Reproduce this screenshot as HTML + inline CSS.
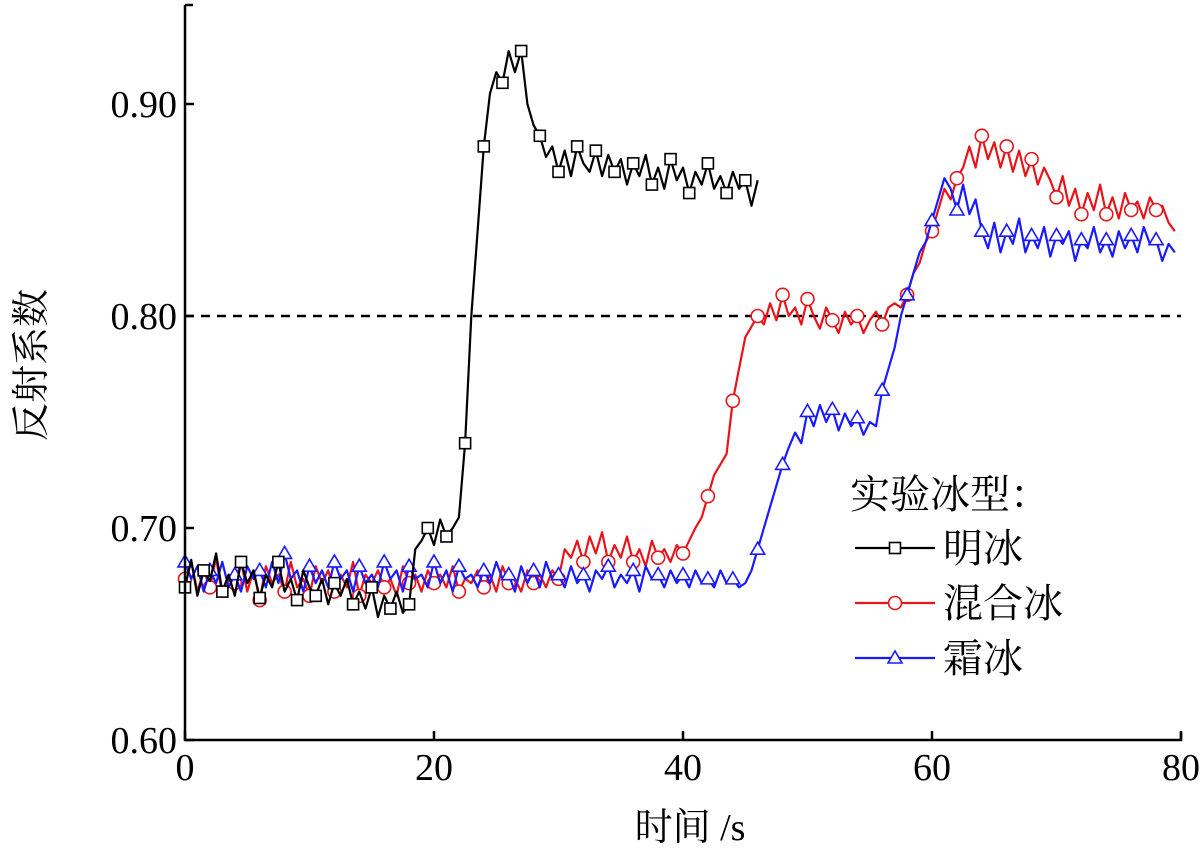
<!DOCTYPE html>
<html><head><meta charset="utf-8"><style>
body{margin:0;background:#fff}
svg{display:block}
text{font-family:"Liberation Serif","Noto Serif CJK SC","Noto Sans CJK SC",serif;fill:#000}
</style></head><body>
<svg id="chart" width="1200" height="852" viewBox="0 0 1200 852" xmlns="http://www.w3.org/2000/svg">
<g id="plot"></g>
</svg>
<script>
const xTicks=[0,20,40,60,80];
const yTicks=[0.60,0.70,0.80,0.90];
const yTickLabels=["0.60","0.70","0.80","0.90"];
const refLine=0.80;
const dt=0.5;
const clearIce=[0.672,0.685,0.668,0.680,0.675,0.688,0.670,0.678,0.668,0.684,0.674,0.680,0.667,0.678,0.672,0.684,0.670,0.676,0.666,0.680,0.672,0.668,0.676,0.664,0.674,0.668,0.676,0.664,0.670,0.662,0.672,0.658,0.668,0.662,0.670,0.660,0.664,0.690,0.694,0.700,0.692,0.704,0.696,0.700,0.705,0.740,0.800,0.840,0.880,0.905,0.915,0.910,0.925,0.915,0.925,0.900,0.890,0.885,0.875,0.880,0.868,0.878,0.866,0.880,0.872,0.868,0.878,0.866,0.876,0.868,0.874,0.862,0.872,0.866,0.876,0.862,0.870,0.860,0.874,0.864,0.870,0.858,0.868,0.862,0.872,0.860,0.866,0.858,0.868,0.860,0.864,0.852,0.864];
const mixedIce=[0.676,0.684,0.670,0.680,0.672,0.686,0.668,0.678,0.674,0.684,0.670,0.680,0.666,0.682,0.674,0.678,0.670,0.684,0.672,0.676,0.668,0.682,0.674,0.680,0.670,0.678,0.672,0.684,0.668,0.678,0.674,
0.680,0.672,0.676,0.668,0.682,0.674,0.678,0.670,0.680,0.674,0.678,0.672,0.682,0.670,0.676,0.674,0.680,0.672,0.678,0.670,0.682,0.674,0.676,0.670,0.680,0.674,0.678,0.672,0.680,0.676,0.690,
0.686,0.694,0.684,0.696,0.688,0.698,0.684,0.692,0.686,0.696,0.684,0.690,0.682,0.694,0.686,0.690,0.684,0.692,0.688,0.694,
0.700,0.705,0.715,0.725,0.730,0.735,0.760,0.775,0.790,0.795,
0.800,0.796,0.806,0.798,0.810,0.800,0.804,0.796,0.808,0.800,0.794,0.804,0.798,0.792,0.802,0.796,0.800,0.792,0.798,0.802,0.796,0.804,0.806,0.804,
0.810,0.820,0.825,0.835,0.840,0.850,0.860,0.855,0.865,0.870,
0.880,0.870,0.885,0.874,0.882,0.870,0.880,0.868,0.878,0.866,0.874,0.862,0.870,0.864,
0.856,0.866,0.852,0.860,0.848,0.858,0.850,0.862,0.848,0.856,0.846,0.858,0.850,0.854,0.846,0.856,0.850,0.852,0.844,0.840];
const rimeIce=[0.684,0.676,0.682,0.670,0.680,0.674,0.684,0.672,0.678,0.670,0.682,0.676,0.680,0.672,0.684,0.674,0.688,0.676,0.680,0.670,0.682,0.674,0.680,0.672,0.684,0.676,0.680,0.670,0.682,0.674,0.678,
0.672,0.684,0.676,0.680,0.670,0.682,0.676,0.678,0.672,0.684,0.674,0.680,0.670,0.682,0.676,0.678,0.672,0.680,0.674,0.684,0.676,0.678,0.670,0.682,0.674,0.680,0.672,0.684,0.676,0.678,
0.672,0.682,0.674,0.678,0.670,0.680,0.676,0.682,0.672,0.678,0.674,0.680,0.670,0.682,0.676,0.678,0.672,0.680,0.674,0.678,0.672,0.680,0.674,0.676,0.672,0.680,0.674,0.676,0.672,0.674,0.680,
0.690,0.700,0.710,0.720,0.730,0.738,0.745,0.740,
0.755,0.748,0.758,0.750,0.756,0.746,0.754,0.748,0.752,0.744,0.750,0.748,
0.765,0.775,0.785,0.800,
0.810,0.820,0.830,0.835,0.845,0.855,0.865,0.860,
0.850,0.862,0.848,0.855,
0.840,0.832,0.844,0.830,0.840,0.834,0.846,0.830,0.838,0.832,0.842,0.828,0.838,0.834,0.840,0.826,0.836,0.832,0.842,0.830,0.836,0.828,0.840,0.832,0.838,0.830,0.842,0.834,0.836,0.826,0.834,0.830];
const seriesNames=["明冰","混合冰","霜冰"];
const seriesColors=["#000","#e8141a","#1a1aff"];
const markerTypes=["square","circle","triangle"];
const markerSteps=[3,4,4];

const X0=185,X1=1181,Y0=740,Y1=104;
const xs=v=>X0+(v-0)/(80-0)*(X1-X0);
const ys=v=>Y0-(v-0.6)/(0.9-0.6)*(Y0-Y1);
const NS="http://www.w3.org/2000/svg";
const plot=document.getElementById('plot');
function mk(tag,attrs,parent){const e=document.createElementNS(NS,tag);for(const k in attrs)e.setAttribute(k,attrs[k]);(parent||plot).appendChild(e);return e;}

// reference dashed line
const dl=mk('line',{x1:X0,x2:X1,y1:ys(refLine),y2:ys(refLine),stroke:'#000','stroke-width':2.5,'stroke-dasharray':'9,7'});



function marker(type,x,y,color,g){
  let e;
  if(type==='square')e=mk('rect',{x:x-5.5,y:y-5.5,width:11,height:11,fill:'#fff',stroke:color,'stroke-width':1.6},g);
  else if(type==='circle')e=mk('circle',{cx:x,cy:y,r:6.5,fill:'#fff',stroke:color,'stroke-width':1.6},g);
  else e=mk('polygon',{points:`${x},${y-7} ${x-7},${y+5} ${x+7},${y+5}`,fill:'#fff',stroke:color,'stroke-width':1.6},g);
  return e;
}
const allSeries=[clearIce,mixedIce,rimeIce];
const drawOrder=[1,2,0];
drawOrder.forEach(i=>{
  const data=allSeries[i];
  const g=mk('g',{});
  
  
  const d=data.map((v,j)=>(j?'L':'M')+xs(j*dt).toFixed(1)+','+ys(v).toFixed(1)).join('');
  const p=mk('path',{d:d,fill:'none',stroke:seriesColors[i],'stroke-width':2.2,'stroke-linejoin':'round'},g);
  
  
  data.forEach((v,j)=>{if(j%markerSteps[i]===0){const m=marker(markerTypes[i],xs(j*dt),ys(v),seriesColors[i],g);
    
    }});
});

// axes
const ax=mk('path',{d:`M${X0},5 L${X0},${Y0} L${X1},${Y0} L${X1},${Y0-8}`,fill:'none',stroke:'#000','stroke-width':2.5});


mk('line',{x1:X0,x2:X0+8,y1:5,y2:5,stroke:'#000','stroke-width':2.5});
xTicks.forEach(t=>{
  const l=mk('line',{x1:xs(t),x2:xs(t),y1:Y0,y2:Y0-9,stroke:'#000','stroke-width':2.5});
  
  
  const tx=mk('text',{x:xs(t),y:Y0+40,'text-anchor':'middle','font-size':38});
  tx.textContent=t;
  
  
});
yTicks.forEach((t,i)=>{
  const l=mk('line',{x1:X0,x2:X0+9,y1:ys(t),y2:ys(t),stroke:'#000','stroke-width':2.5});
  
  
  const tx=mk('text',{x:X0-8,y:ys(t)+13,'text-anchor':'end','font-size':38});
  tx.textContent=yTickLabels[i];
  
  
});
const xt=mk('text',{x:690,y:840,'text-anchor':'middle','font-size':38});
xt.textContent='时间 /s';


const yt=mk('text',{x:0,y:0,'text-anchor':'middle','font-size':38,transform:'translate(44,365) rotate(-90)'});
yt.textContent='反射系数';



// legend
const lg=mk('g',{});


const lt=mk('text',{x:850,y:508,'font-size':40},lg);
lt.textContent='实验冰型：';


seriesNames.forEach((n,i)=>{
  const y=548+i*55;
  const e=mk('g',{},lg);
  
  
  mk('line',{x1:855,x2:935,y1:y,y2:y,stroke:seriesColors[i],'stroke-width':2.2},e);
  marker(markerTypes[i],895,y,seriesColors[i],e);
  const t=mk('text',{x:943,y:y+14,'font-size':40},e);
  t.textContent=n;
});
</script>
</body></html>
